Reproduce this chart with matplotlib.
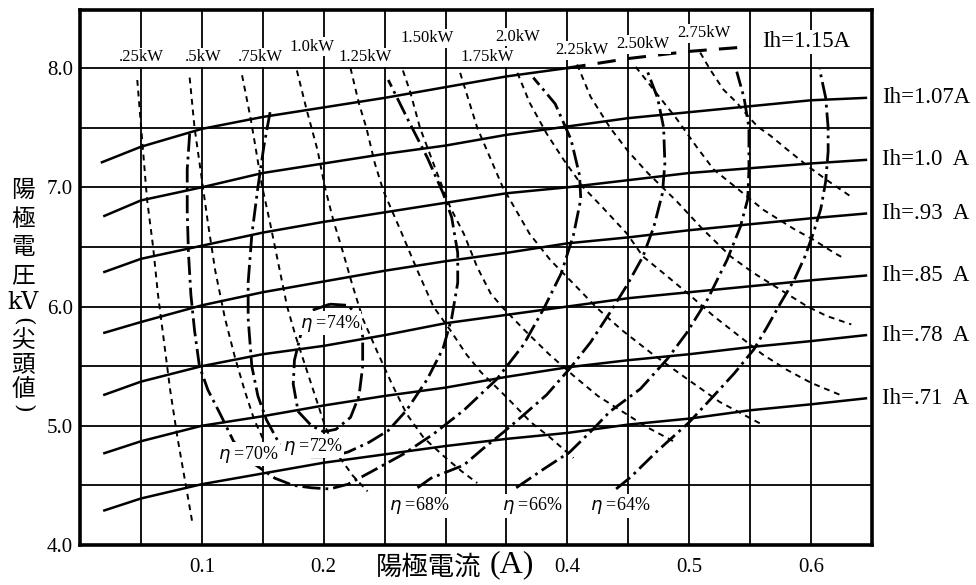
import numpy as np
import matplotlib.pyplot as plt

plt.rcParams['font.family'] = ['Liberation Serif', 'Noto Sans CJK JP', 'DejaVu Sans']

# --- ヒータ電流一定の線 (陽極電流 A, 陽極電圧 kV) ---
ih_i = [0.02, 0.05, 0.10, 0.15, 0.20, 0.25, 0.30, 0.35, 0.40, 0.45, 0.50, 0.55, 0.60, 0.645]
ih_107 = [6.76, 6.89, 7.00, 7.12, 7.20, 7.28, 7.35, 7.44, 7.51, 7.58, 7.63, 7.68, 7.73, 7.75]
ih_100 = [6.29, 6.40, 6.51, 6.62, 6.71, 6.79, 6.87, 6.95, 7.00, 7.06, 7.12, 7.16, 7.20, 7.23]
ih_093 = [5.78, 5.87, 6.01, 6.12, 6.21, 6.30, 6.38, 6.45, 6.53, 6.58, 6.64, 6.69, 6.74, 6.78]
ih_085 = [5.26, 5.37, 5.50, 5.60, 5.67, 5.76, 5.86, 5.93, 6.00, 6.07, 6.12, 6.17, 6.22, 6.26]
ih_078 = [4.77, 4.87, 5.00, 5.08, 5.17, 5.25, 5.32, 5.41, 5.49, 5.55, 5.60, 5.66, 5.71, 5.76]
ih_071 = [4.29, 4.39, 4.51, 4.60, 4.69, 4.76, 4.83, 4.89, 4.94, 5.01, 5.06, 5.13, 5.18, 5.23]
ih_names = ['Ih=1.07A', 'Ih=1.0  A', 'Ih=.93  A', 'Ih=.85  A', 'Ih=.78  A', 'Ih=.71  A']

ih115_i = [0.018, 0.05, 0.10, 0.15, 0.20, 0.25, 0.30, 0.35, 0.40]
ih115_v = [7.21, 7.34, 7.49, 7.59, 7.67, 7.75, 7.84, 7.93, 8.00]
ih115d_i = [0.40, 0.45, 0.50, 0.55]
ih115d_v = [8.00, 8.08, 8.14, 8.18]

# --- 出力一定の線 (kW) ---
kw025 = [(0.047, 7.90), (0.051, 7.40), (0.055, 6.90), (0.060, 6.50), (0.064, 6.10), (0.069, 5.70),
         (0.074, 5.30), (0.080, 4.90), (0.086, 4.55), (0.092, 4.20)]
kw050 = [(0.090, 7.92), (0.094, 7.50), (0.099, 7.14), (0.105, 6.70), (0.111, 6.30), (0.119, 5.90),
         (0.127, 5.58), (0.135, 5.30), (0.143, 5.05), (0.152, 4.85)]
kw075 = [(0.133, 7.94), (0.140, 7.58), (0.144, 7.34), (0.149, 7.03), (0.156, 6.70), (0.163, 6.35),
         (0.170, 6.00), (0.177, 5.75), (0.185, 5.50), (0.193, 5.25), (0.201, 5.00), (0.212, 4.75),
         (0.224, 4.58), (0.236, 4.45)]
kw100 = [(0.178, 7.98), (0.186, 7.65), (0.195, 7.31), (0.201, 7.00), (0.208, 6.72), (0.216, 6.45),
         (0.223, 6.20), (0.232, 5.90), (0.244, 5.62), (0.256, 5.35), (0.268, 5.10), (0.282, 4.90),
         (0.298, 4.75), (0.313, 4.62), (0.326, 4.52)]
kw125 = [(0.222, 8.00), (0.229, 7.70), (0.235, 7.50), (0.242, 7.20), (0.249, 6.97), (0.263, 6.64),
         (0.277, 6.30), (0.290, 6.00), (0.304, 5.80), (0.317, 5.60), (0.329, 5.45), (0.351, 5.23),
         (0.370, 5.03), (0.386, 4.90), (0.405, 4.73)]
kw150 = [(0.265, 7.98), (0.271, 7.80), (0.279, 7.50), (0.293, 7.12), (0.304, 6.83), (0.315, 6.61),
         (0.326, 6.33), (0.337, 6.11), (0.347, 5.99), (0.365, 5.80), (0.385, 5.60), (0.405, 5.42),
         (0.425, 5.25), (0.445, 5.12), (0.465, 4.99), (0.487, 4.87)]
kw175 = [(0.312, 7.96), (0.326, 7.50), (0.347, 7.00), (0.369, 6.61), (0.386, 6.39), (0.408, 6.16),
         (0.424, 5.99), (0.445, 5.80), (0.470, 5.60), (0.500, 5.38), (0.525, 5.20), (0.558, 5.02)]
kw200 = [(0.359, 7.96), (0.369, 7.71), (0.383, 7.45), (0.397, 7.23), (0.413, 7.00), (0.429, 6.83),
         (0.449, 6.61), (0.462, 6.42), (0.480, 6.27), (0.500, 6.10), (0.520, 5.92), (0.540, 5.76),
         (0.560, 5.60), (0.580, 5.47), (0.600, 5.36), (0.626, 5.25)]
kw225 = [(0.408, 8.03), (0.419, 7.76), (0.435, 7.50), (0.450, 7.30), (0.466, 7.12), (0.490, 6.88),
         (0.510, 6.66), (0.534, 6.42), (0.553, 6.28), (0.575, 6.14), (0.597, 6.00), (0.613, 5.92),
         (0.633, 5.85)]
kw250 = [(0.456, 8.01), (0.460, 7.96), (0.473, 7.79), (0.490, 7.57), (0.506, 7.34), (0.520, 7.15),
         (0.537, 7.01), (0.561, 6.81), (0.586, 6.65), (0.602, 6.56), (0.619, 6.45), (0.626, 6.41)]
kw275 = [(0.509, 8.13), (0.517, 7.99), (0.528, 7.82), (0.539, 7.71), (0.548, 7.60), (0.556, 7.51),
         (0.567, 7.43), (0.580, 7.32), (0.597, 7.18), (0.613, 7.06), (0.633, 6.92)]
kw_lines = [kw025, kw050, kw075, kw100, kw125, kw150, kw175, kw200, kw225, kw250, kw275]
kw_names = ['.25kW', '.5kW', '.75kW', '1.0kW', '1.25kW', '1.50kW', '1.75kW',
            '2.0kW', '2.25kW', '2.50kW', '2.75kW']
kw_label_pos = [(0.050, 8.09), (0.101, 8.09), (0.148, 8.09), (0.190, 8.18), (0.234, 8.09),
                (0.285, 8.25), (0.334, 8.09), (0.359, 8.26), (0.412, 8.15), (0.462, 8.20),
                (0.512, 8.29)]

# --- 効率一定の線 (η) ---
eta74 = [(0.205, 6.02), (0.191, 5.97), (0.182, 5.80), (0.176, 5.55), (0.175, 5.35), (0.179, 5.12),
         (0.190, 5.00), (0.200, 4.95), (0.210, 4.97), (0.222, 5.07), (0.229, 5.25), (0.232, 5.50),
         (0.232, 5.75), (0.228, 5.92), (0.220, 6.01), (0.205, 6.02)]
eta72 = [(0.156, 7.63), (0.151, 7.35), (0.146, 7.00), (0.141, 6.60), (0.138, 6.20), (0.138, 5.90),
         (0.141, 5.50), (0.146, 5.25), (0.153, 5.05), (0.162, 4.88), (0.175, 4.78), (0.190, 4.74),
         (0.205, 4.74), (0.220, 4.78), (0.237, 4.86), (0.253, 4.96), (0.268, 5.13), (0.285, 5.39),
         (0.298, 5.65), (0.305, 5.90), (0.310, 6.20), (0.310, 6.45), (0.305, 6.75), (0.298, 6.95),
         (0.285, 7.25), (0.270, 7.55), (0.253, 7.90)]
eta70 = [(0.090, 7.45), (0.088, 7.15), (0.088, 6.80), (0.089, 6.45), (0.091, 6.10), (0.094, 5.80),
         (0.098, 5.50), (0.105, 5.30), (0.115, 5.10), (0.126, 4.87), (0.140, 4.70), (0.150, 4.63),
         (0.160, 4.56), (0.175, 4.50), (0.190, 4.48), (0.205, 4.47), (0.220, 4.51), (0.240, 4.62),
         (0.265, 4.76), (0.290, 4.93), (0.315, 5.13), (0.342, 5.39), (0.364, 5.68), (0.381, 5.99),
         (0.395, 6.28), (0.405, 6.60), (0.411, 6.90), (0.410, 7.10), (0.403, 7.40), (0.390, 7.70),
         (0.372, 7.92)]
eta68 = [(0.277, 4.48), (0.288, 4.56), (0.315, 4.67), (0.331, 4.81), (0.348, 4.95), (0.364, 5.09),
         (0.383, 5.26), (0.402, 5.48), (0.419, 5.70), (0.435, 5.95), (0.449, 6.18), (0.462, 6.42),
         (0.471, 6.67), (0.478, 6.95), (0.480, 7.20), (0.479, 7.50), (0.474, 7.75), (0.465, 7.99)]
eta66 = [(0.358, 4.48), (0.381, 4.64), (0.402, 4.78), (0.419, 4.95), (0.435, 5.12), (0.460, 5.31),
         (0.482, 5.56), (0.498, 5.78), (0.515, 6.06), (0.531, 6.39), (0.542, 6.67), (0.548, 6.90),
         (0.549, 7.15), (0.549, 7.50), (0.545, 7.75), (0.539, 7.97)]
eta64 = [(0.440, 4.47), (0.452, 4.57), (0.474, 4.79), (0.500, 5.03), (0.520, 5.25), (0.537, 5.44),
         (0.553, 5.64), (0.564, 5.83), (0.575, 6.03), (0.586, 6.22), (0.595, 6.42), (0.602, 6.62),
         (0.608, 6.82), (0.612, 7.05), (0.614, 7.30), (0.614, 7.50), (0.612, 7.75), (0.607, 7.99)]
eta_lines = [eta74, eta72, eta70, eta68, eta66, eta64]
eta_names = ['$\\eta$ =74%', '$\\eta$ =72%', '$\\eta$ =70%', '$\\eta$ =68%', '$\\eta$ =66%', '$\\eta$ =64%']
eta_label_pos = [(0.205, 5.86), (0.191, 4.83), (0.138, 4.76), (0.278, 4.33), (0.371, 4.33), (0.443, 4.33)]

x_labels = ['0.1', '0.2', '', '0.4', '0.5', '0.6']
y_labels = ['4.0', '5.0', '6.0', '7.0', '8.0']

fig = plt.figure(figsize=(9.76, 5.85), dpi=100)
ax = fig.add_axes([80/976, 1-545/585, 792/976, 535/585])
ax.set_xlim(0, 0.65)
ax.set_ylim(4.0, 8.487)

# 格子
ax.set_xticks(np.arange(0.05, 0.65, 0.05), minor=True)
ax.set_xticks(np.arange(0.1, 0.65, 0.1))
ax.set_xticklabels(x_labels)
ax.set_yticks(np.arange(4.5, 8.01, 0.5), minor=True)
ax.set_yticks(np.arange(4.0, 8.01, 1.0))
ax.set_yticklabels(y_labels)
ax.grid(True, which='both', color='black', lw=1.3)
ax.set_axisbelow(True)
ax.tick_params(which='both', length=0, labelsize=15)
ax.tick_params(axis='x', pad=9)
ax.tick_params(axis='y', pad=5)
for s in ax.spines.values():
    s.set_linewidth(2.6)

# Ih 線
for v in [ih_107, ih_100, ih_093, ih_085, ih_078, ih_071]:
    ax.plot(ih_i, v, color='black', lw=1.8, zorder=3)
ax.plot(ih115_i, ih115_v, color='black', lw=1.8, zorder=3)
ax.plot(ih115d_i, ih115d_v, color='black', lw=2.2, dashes=(6, 4), zorder=3)
for name, v in zip(ih_names, [ih_107, ih_100, ih_093, ih_085, ih_078, ih_071]):
    ax.text(0.658, v[-1], name, fontsize=16.5, va='center', ha='left', clip_on=False)
ax.text(0.596, 8.22, 'Ih=1.15A', fontsize=16.5, va='center', ha='center', zorder=6,
        bbox=dict(fc='white', ec='none', pad=1))

# kW 線
for pts, name, pos in zip(kw_lines, kw_names, kw_label_pos):
    xs, ys = zip(*pts)
    ax.plot(xs, ys, color='black', lw=1.4, dashes=(3, 2.5), zorder=3)
    ax.text(pos[0], pos[1], name, fontsize=12, ha='center', va='center', zorder=6,
            bbox=dict(fc='white', ec='none', pad=1))

# η 線
for pts, name, pos in zip(eta_lines, eta_names, eta_label_pos):
    xs, ys = zip(*pts)
    ax.plot(xs, ys, color='black', lw=2.0, dashes=(6.5, 1.8, 1, 1.8), zorder=4)
    ax.text(pos[0], pos[1], name, fontsize=13, ha='center', va='center', zorder=6,
            bbox=dict(fc='white', ec='none', pad=1))

# 軸の名前
fig.text(429/976, 1-567/585, '陽極電流', fontsize=19, ha='center', va='center')
fig.text(512/976, 1-565/585, '(A)', fontsize=23, ha='center', va='center')

ylab_chars = ['陽', '極', '電', '圧', 'kV', '(', '尖', '頭', '値', ')']
ylab_y = [191, 220, 248, 276, 302, 321, 341, 366, 390, 408]
for ch, yy in zip(ylab_chars, ylab_y):
    rot = -90 if ch in '()' else 0
    fs = 16 if ch in '()' else 17
    fig.text(23/976, 1-yy/585, ch, fontsize=fs, ha='center', va='center', rotation=rot,
             family=['DejaVu Serif', 'Noto Sans CJK JP'])

fig.savefig('out.png', dpi=100)
